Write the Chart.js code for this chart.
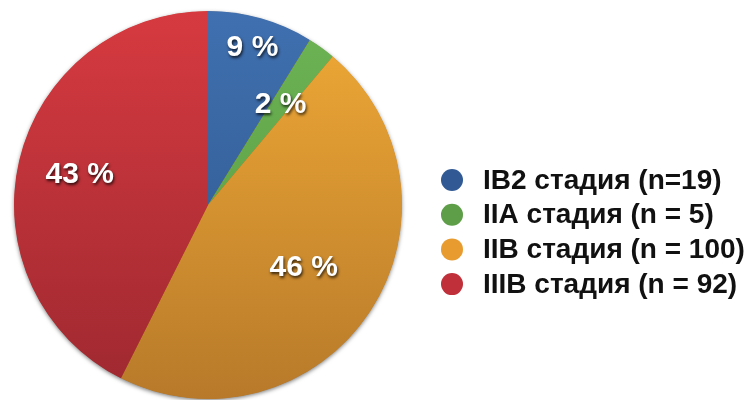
<!DOCTYPE html>
<html lang="ru">

<head>
    <meta charset="UTF-8">
    <script src="https://cdn.jsdelivr.net/npm/chart.js"></script>
    <title>Стадии</title>
    <style>
        * {
            margin: 0px;
            padding: 0px;
        }

        body {
            background: #ffffff;
            overflow: hidden;
        }
    </style>
</head>

<body>
    <canvas id="myChart" width="755" height="400"></canvas>

    <script>
        // данные
        const etiquetas = ['IB2 стадия (n=19)', 'IIA стадия (n = 5)', 'IIB стадия (n = 100)', 'IIIB стадия (n = 92)'];
        const pacientes = [19, 5, 100, 92];

        // estilos
        const coloresArriba = ['#4070b0', '#6db455', '#f0aa36', '#d63a40'];
        const coloresAbajo = ['#2c5588', '#559840', '#b87a2a', '#9e2830'];
        const coloresLeyenda = ['#315a94', '#5e9e48', '#e89c30', '#c0303a'];
        const radioEtiqueta = [0.84, 0.64, 0.59, 0.68];

        const total = pacientes.reduce((a, b) => a + b, 0);

        function degradado(context) {
            const chart = context.chart;
            const area = chart.chartArea;
            const i = context.dataIndex;
            if (!area) return coloresArriba[i];
            const g = chart.ctx.createLinearGradient(0, area.top, 0, area.bottom);
            g.addColorStop(0, coloresArriba[i]);
            g.addColorStop(1, coloresAbajo[i]);
            return g;
        }

        const sombraPastel = {
            id: 'sombraPastel',
            beforeDatasetsDraw(chart) {
                const arc = chart.getDatasetMeta(0).data[0];
                if (!arc) return;
                const ctx = chart.ctx;
                ctx.save();
                ctx.shadowColor = 'rgba(0,0,0,0.55)';
                ctx.shadowBlur = 4;
                ctx.shadowOffsetY = 1.5;
                ctx.fillStyle = '#a06020';
                ctx.beginPath();
                ctx.arc(arc.x, arc.y, arc.outerRadius - 0.5, 0, Math.PI * 2);
                ctx.fill();
                ctx.restore();
            }
        };

        const porcentajes = {
            id: 'porcentajes',
            afterDatasetsDraw(chart) {
                const ctx = chart.ctx;
                const arcos = chart.getDatasetMeta(0).data;
                ctx.save();
                ctx.font = 'bold 30px "Liberation Sans", Arial, sans-serif';
                ctx.textAlign = 'center';
                ctx.textBaseline = 'middle';
                ctx.fillStyle = '#ffffff';
                ctx.shadowColor = 'rgba(0,0,0,0.75)';
                ctx.shadowBlur = 3;
                ctx.shadowOffsetX = 1;
                ctx.shadowOffsetY = 2;
                arcos.forEach((arc, i) => {
                    const medio = (arc.startAngle + arc.endAngle) / 2;
                    const r = arc.outerRadius * radioEtiqueta[i];
                    const x = arc.x + Math.cos(medio) * r;
                    const y = arc.y + Math.sin(medio) * r;
                    ctx.fillText(Math.round(pacientes[i] / total * 100) + ' %', x, y);
                });
                ctx.restore();
            }
        };

        const leyenda = {
            id: 'leyenda',
            afterDraw(chart) {
                const ctx = chart.ctx;
                ctx.save();
                ctx.font = 'bold 28px "Liberation Sans", Arial, sans-serif';
                ctx.textBaseline = 'middle';
                chart.data.labels.forEach((texto, i) => {
                    const y = 180 + i * 34.7;
                    ctx.fillStyle = coloresLeyenda[i];
                    ctx.beginPath();
                    ctx.arc(452, y, 11, 0, Math.PI * 2);
                    ctx.fill();
                    ctx.fillStyle = '#111111';
                    ctx.fillText(texto, 483, y + 1);
                });
                ctx.restore();
            }
        };

        const ctx = document.getElementById('myChart').getContext('2d');
        const myChart = new Chart(ctx, {
            type: 'pie',
            data: {
                labels: etiquetas,
                datasets: [{
                    data: pacientes,
                    backgroundColor: degradado,
                    borderWidth: 0
                }]
            },
            options: {
                responsive: false,
                animation: false,
                layout: {
                    padding: { left: 14, top: 11, bottom: 1, right: 353 }
                },
                plugins: {
                    legend: { display: false },
                    tooltip: { enabled: false }
                }
            },
            plugins: [sombraPastel, porcentajes, leyenda]
        });
    </script>
</body>

</html>
